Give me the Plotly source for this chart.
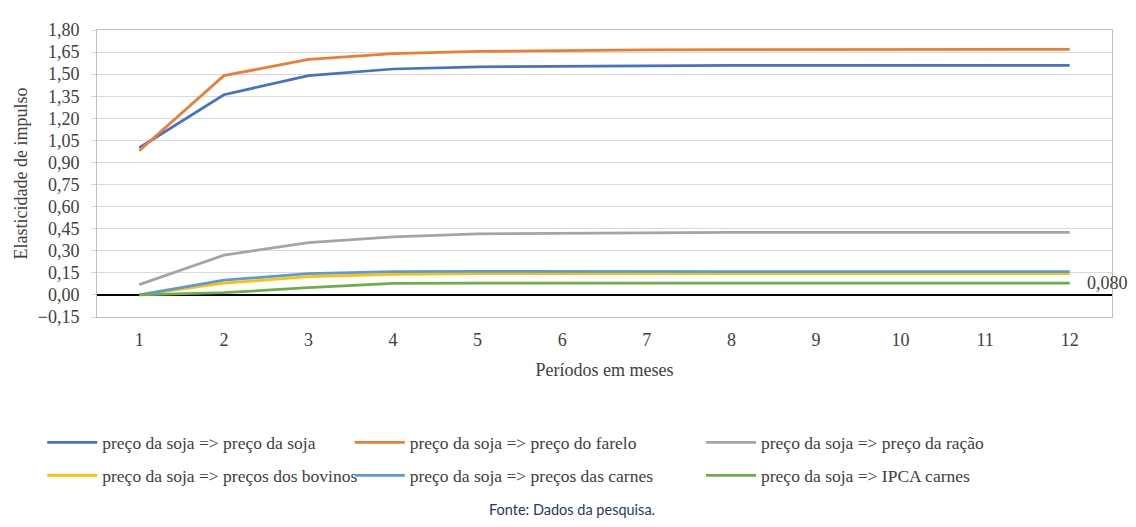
import plotly.graph_objects as go

periods = [1, 2, 3, 4, 5, 6, 7, 8, 9, 10, 11, 12]
soja = [1.00, 1.36, 1.49, 1.535, 1.55, 1.555, 1.558, 1.56, 1.56, 1.56, 1.56, 1.56]
farelo = [0.98, 1.49, 1.60, 1.64, 1.655, 1.662, 1.665, 1.667, 1.668, 1.668, 1.668, 1.668]
racao = [0.07, 0.27, 0.355, 0.395, 0.415, 0.42, 0.423, 0.425, 0.425, 0.425, 0.425, 0.425]
bovinos = [0.0, 0.08, 0.125, 0.14, 0.145, 0.145, 0.145, 0.145, 0.145, 0.145, 0.145, 0.145]
carnes = [0.0, 0.10, 0.145, 0.158, 0.16, 0.16, 0.157, 0.158, 0.158, 0.158, 0.158, 0.158]
ipca = [0.0, 0.015, 0.05, 0.078, 0.08, 0.08, 0.08, 0.08, 0.08, 0.08, 0.08, 0.08]

names = [
    "preço da soja => preço da soja",
    "preço da soja => preço do farelo",
    "preço da soja => preço da ração",
    "preço da soja => preços dos bovinos",
    "preço da soja => preços das carnes",
    "preço da soja => IPCA carnes",
]
series = [soja, farelo, racao, bovinos, carnes, ipca]
colors = ["#4472C4", "#ED7D31", "#A5A5A5", "#FFC000", "#5B9BD5", "#70AD47"]
y_ticks = [-0.15 + 0.15 * i for i in range(14)]

# page is rendered with an 8px body margin
OFF = 8
FW, FH = 1136 - 2 * OFF, 527 - 2 * OFF
ML, MT = 92 - OFF, 20 - OFF
PR, PB = 1112 - OFF, 317 - OFF
MR, MB = FW - PR, FH - PB
PW = FW - ML - MR
PH = FH - MT - MB

# legend positions in page pixels
leg_x = [37, 346, 699]
leg_y = [447, 481]

serif = "Liberation Serif"
txt_col = "#404040"
FS = 17.5

fig = go.Figure()
for i, (nm, ys, c) in enumerate(zip(names, series, colors)):
    lg = "legend" if i == 0 else f"legend{i+1}"
    fig.add_trace(go.Scatter(
        x=periods, y=ys, name=nm, mode="lines",
        line=dict(color=c, width=2.75),
        legend=lg,
    ))

layout_legends = {}
for i in range(6):
    key = "legend" if i == 0 else f"legend{i+1}"
    r, col = divmod(i, 3)
    px = leg_x[col] - OFF
    py = leg_y[r] - OFF
    layout_legends[key] = dict(
        x=(px - ML) / PW, xanchor="left",
        y=1 - (py - MT) / PH, yanchor="middle",
        orientation="h",
        bgcolor="rgba(0,0,0,0)",
        font=dict(family=serif, size=FS, color=txt_col),
        itemwidth=50,
        borderwidth=0,
    )

fig.update_layout(
    width=FW, height=FH,
    margin=dict(l=ML, r=MR, t=MT, b=MB),
    paper_bgcolor="white", plot_bgcolor="white",
    separators=",.",
    showlegend=True,
    font=dict(family=serif, color=txt_col),
    **layout_legends,
)

fig.update_xaxes(
    range=[0.5, 12.5],
    tickmode="array", tickvals=periods, ticktext=[str(p) for p in periods],
    ticks="", showgrid=False,
    showline=True, linecolor="#BFBFBF", linewidth=1, mirror=True,
    tickfont=dict(family=serif, size=18, color=txt_col),
    ticklabelstandoff=6,
    title=dict(text="Períodos em meses", font=dict(family=serif, size=18, color=txt_col), standoff=14),
    zeroline=False,
)
fig.update_yaxes(
    range=[-0.15, 1.80],
    tickmode="array", tickvals=y_ticks, tickformat=".2f",
    ticks="outside", ticklen=5, tickcolor="#D9D9D9",
    showgrid=True, gridcolor="#D9D9D9", gridwidth=1,
    showline=True, linecolor="#BFBFBF", linewidth=1, mirror=True,
    zeroline=True, zerolinecolor="#000000", zerolinewidth=1.5,
    tickfont=dict(family=serif, size=18, color=txt_col),
    ticklabelstandoff=8,
    title=dict(text="Elasticidade de impulso", font=dict(family=serif, size=18, color=txt_col), standoff=5),
)

fig.add_annotation(
    x=12.5, y=ipca[-1], xref="x", yref="y",
    text=f"{ipca[-1]:.3f}".replace(".", ","),
    showarrow=False, xanchor="center", yanchor="middle", xshift=-5,
    font=dict(family=serif, size=18, color=txt_col),
)

fig.add_annotation(
    x=(569 - OFF - ML) / PW, y=0, xref="paper", yref="paper",
    xanchor="center", yanchor="bottom", yshift=-MB - 1,
    text="Fonte: Dados da pesquisa.", showarrow=False,
    font=dict(family="Lato", size=14.5, color="#1F3864"),
)

fig.write_html("out.html")
